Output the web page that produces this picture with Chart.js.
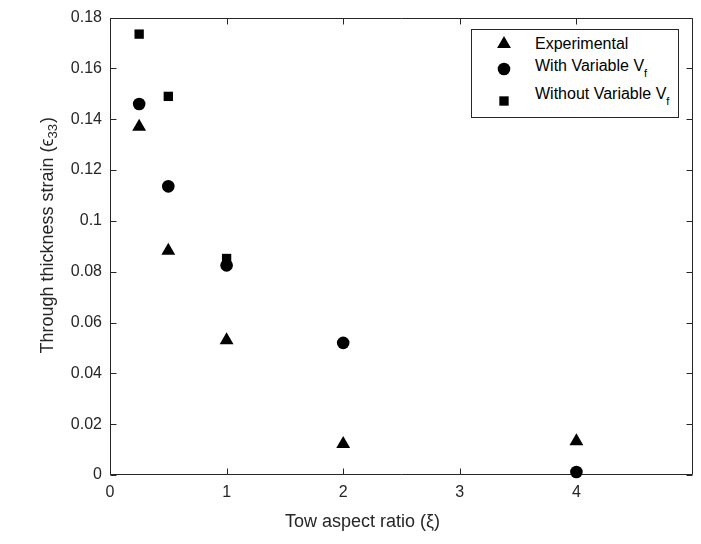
<!DOCTYPE html>
<html><head><meta charset="utf-8">
<script src="https://cdn.jsdelivr.net/npm/chart.js@4.4.1/dist/chart.umd.min.js"></script>
<style>
html,body{margin:0;padding:0;background:#fff;}
#wrap{position:relative;width:701px;height:544px;}
#legend{position:absolute;left:471px;top:29px;width:208px;height:89px;border:1px solid #262626;background:#fff;box-sizing:border-box;font-family:"Liberation Sans",Arial,sans-serif;font-size:16px;color:#000;}
#legend .mk{position:absolute;}
#legend .tx{position:absolute;white-space:nowrap;line-height:18px;}
#legend sub{font-size:11px;vertical-align:-6px;line-height:0;}
</style>
</head><body>
<div id="wrap"><canvas id="c" width="701" height="544"></canvas><div id="legend"></div></div>
<script>
// ---- data ----
const seriesNames = ['Experimental', 'With Variable V_f', 'Without Variable V_f'];
const expX = [0.25, 0.5, 1, 2, 4];
const expY = [0.137, 0.0882, 0.053, 0.0122, 0.0133];
const withVfX = [0.25, 0.5, 1, 2, 4];
const withVfY = [0.146, 0.1136, 0.0825, 0.052, 0.0012];
const withoutVfX = [0.25, 0.5, 1];
const withoutVfY = [0.1735, 0.149, 0.0852];
const xTickValues = [0, 1, 2, 3, 4];
const xTickLabels = ['0', '1', '2', '3', '4'];
const yTickValues = [0, 0.02, 0.04, 0.06, 0.08, 0.1, 0.12, 0.14, 0.16, 0.18];
const yTickLabels = ['0', '0.02', '0.04', '0.06', '0.08', '0.1', '0.12', '0.14', '0.16', '0.18'];
const xTitle = 'Tow aspect ratio (\u03BE)';
const yTitleParts = ['Through thickness strain (\u03F5', '33', ')'];
const yTitle = yTitleParts[0] + '\u2083\u2083' + yTitleParts[2];

const FONT = '"Liberation Sans", Arial, sans-serif';
const AX = '#262626';
const toPts = (xs, ys) => xs.map((x, i) => ({x, y: ys[i]}));

const framePlugin = {
  id: 'frame',
  beforeDatasetsDraw(chart) {
    const {ctx, chartArea: {left, right, top, bottom}, scales: {x, y}} = chart;
    ctx.save();
    ctx.strokeStyle = AX; ctx.lineWidth = 1;
    const L = Math.round(left) + 0.5, R = Math.round(right) - 0.5, T = Math.round(top) + 0.5, B = Math.round(bottom) - 0.5;
    ctx.beginPath();
    ctx.rect(L, T, R - L, B - T);
    xTickValues.forEach(v => { const p = Math.round(x.getPixelForValue(v)) + 0.5; ctx.moveTo(p, B); ctx.lineTo(p, B - 6); ctx.moveTo(p, T); ctx.lineTo(p, T + 6); });
    yTickValues.forEach(v => { const p = Math.round(y.getPixelForValue(v)) + 0.5; ctx.moveTo(L, p); ctx.lineTo(L + 6, p); ctx.moveTo(R, p); ctx.lineTo(R - 6, p); });
    ctx.stroke();
    ctx.restore();
  },
  afterDraw(chart) {
    const {ctx, chartArea: {left, right, top, bottom}} = chart;
    ctx.save();
    ctx.fillStyle = AX;
    ctx.font = '18px ' + FONT;
    ctx.textAlign = 'center'; ctx.textBaseline = 'middle';
    ctx.fillText(xTitle, (left + right) / 2 - 39, 522);
    // y title with a real subscript
    ctx.translate(48, (top + bottom) / 2 - 11);
    ctx.rotate(-Math.PI / 2);
    ctx.textAlign = 'left';
    const mainF = '18px ' + FONT, subF = '13px ' + FONT;
    ctx.font = mainF; const w0 = ctx.measureText(yTitleParts[0]).width;
    ctx.font = subF; const w1 = ctx.measureText(yTitleParts[1]).width;
    ctx.font = mainF; const w2 = ctx.measureText(yTitleParts[2]).width;
    let xs = -(w0 + w1 + w2 + 1) / 2;
    ctx.font = mainF; ctx.fillText(yTitleParts[0], xs, 0); xs += w0;
    ctx.font = subF; ctx.fillText(yTitleParts[1], xs, 5); xs += w1 + 1;
    ctx.font = mainF; ctx.fillText(yTitleParts[2], xs, 0);
    ctx.restore();
  }
};

const styles = [
  {pointStyle: 'triangle', radius: 8},
  {pointStyle: 'circle', radius: 6.3},
  {pointStyle: 'rect', radius: 6.6}
];

const chart = new Chart(document.getElementById('c'), {
  type: 'scatter',
  data: {
    datasets: [
      {label: seriesNames[0], data: toPts(expX, expY)},
      {label: seriesNames[1], data: toPts(withVfX, withVfY)},
      {label: seriesNames[2], data: toPts(withoutVfX, withoutVfY)}
    ].map((d, i) => Object.assign(d, {
      pointStyle: styles[i].pointStyle, pointRadius: styles[i].radius, pointHoverRadius: styles[i].radius,
      backgroundColor: '#000', borderColor: '#000', pointBorderWidth: 0, showLine: false, clip: false
    }))
  },
  options: {
    responsive: false, animation: false, events: [],
    layout: {padding: {top: 14, right: 8, left: 0, bottom: 0}},
    plugins: {legend: {display: false}, tooltip: {enabled: false}},
    scales: {
      x: {
        type: 'linear', min: 0, max: 5,
        afterBuildTicks: s => { s.ticks = xTickValues.map(v => ({value: v})); },
        afterFit: s => { s.height = 69; },
        grid: {display: false, drawTicks: false}, border: {display: false},
        ticks: {color: AX, font: {family: FONT, size: 16}, padding: 8, maxRotation: 0,
          callback: v => xTickLabels[xTickValues.indexOf(v)]},
        title: {display: false, text: xTitle}
      },
      y: {
        type: 'linear', min: 0, max: 0.18,
        afterBuildTicks: s => { s.ticks = yTickValues.map(v => ({value: v})); },
        afterFit: s => { s.width = 110; },
        grid: {display: false, drawTicks: false}, border: {display: false},
        ticks: {color: AX, font: {family: FONT, size: 16}, padding: 8,
          callback: v => yTickLabels[yTickValues.indexOf(v)]},
        title: {display: false, text: yTitle}
      }
    }
  },
  plugins: [framePlugin]
});

// HTML legend built from the chart's datasets
(function buildLegend() {
  const box = document.getElementById('legend');
  const markerCY = [14, 39, 71];
  const textCY = [14, 36, 64];
  chart.data.datasets.forEach((ds, i) => {
    const r = ds.pointRadius;
    const mk = document.createElementNS('http://www.w3.org/2000/svg', 'svg');
    mk.setAttribute('width', 20); mk.setAttribute('height', 20);
    mk.setAttribute('class', 'mk');
    mk.style.left = (32 - 10) + 'px'; mk.style.top = (markerCY[i] - 10) + 'px';
    let shape;
    if (ds.pointStyle === 'triangle') {
      shape = document.createElementNS(mk.namespaceURI, 'polygon');
      const w = r * Math.sqrt(3) / 2;
      shape.setAttribute('points', `10,${10 - r} ${10 + w},${10 + r / 2} ${10 - w},${10 + r / 2}`);
    } else if (ds.pointStyle === 'circle') {
      shape = document.createElementNS(mk.namespaceURI, 'circle');
      shape.setAttribute('cx', 10); shape.setAttribute('cy', 10); shape.setAttribute('r', r);
    } else {
      shape = document.createElementNS(mk.namespaceURI, 'rect');
      const s = r * Math.SQRT1_2;
      shape.setAttribute('x', 10 - s); shape.setAttribute('y', 10 - s);
      shape.setAttribute('width', 2 * s); shape.setAttribute('height', 2 * s);
    }
    shape.setAttribute('fill', '#000');
    mk.appendChild(shape);
    box.appendChild(mk);
    const tx = document.createElement('span');
    tx.className = 'tx';
    tx.style.left = '63px'; tx.style.top = (textCY[i] - 9) + 'px';
    const parts = ds.label.split('_');
    tx.appendChild(document.createTextNode(parts[0]));
    if (parts[1]) { const sb = document.createElement('sub'); sb.textContent = parts[1]; tx.appendChild(sb); }
    box.appendChild(tx);
  });
})();
</script>
</body></html>
